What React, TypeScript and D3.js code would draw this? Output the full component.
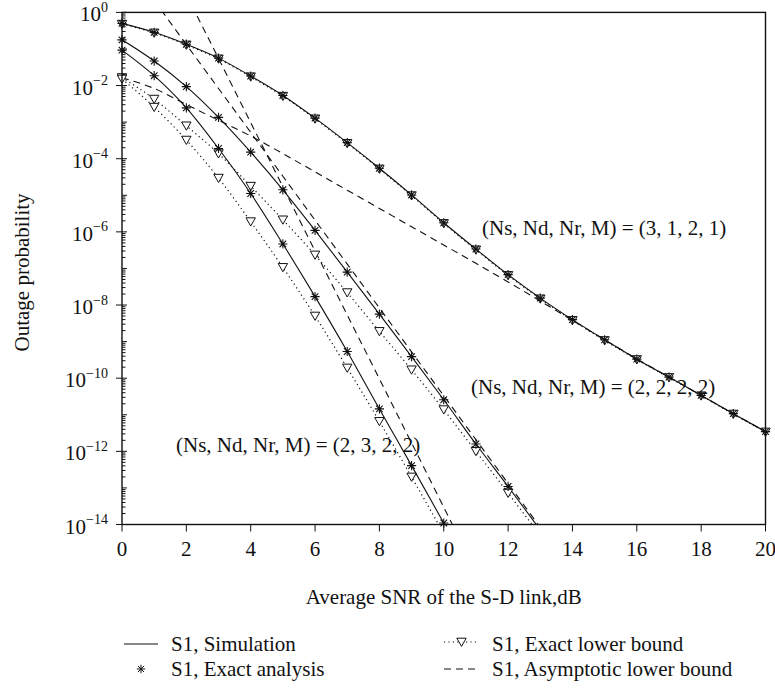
import React from 'react';
import * as d3 from 'd3';

// ---- data (log10 of outage probability) ----
const snrDb = [0, 1, 2, 3, 4, 5, 6, 7, 8, 9, 10, 11, 12, 13, 14, 15, 16, 17, 18, 19, 20];

// (Ns, Nd, Nr, M) = (3, 1, 2, 1)
const simA = [-0.30, -0.545, -0.87, -1.25, -1.74, -2.27, -2.89, -3.56, -4.26, -4.99, -5.75, -6.47, -7.17, -7.81, -8.40, -8.95, -9.48, -9.97, -10.47, -10.97, -11.46];
const lbA = [-0.32, -0.56, -0.89, -1.27, -1.76, -2.29, -2.91, -3.58, -4.28, -5.01, -5.77, -6.49, -7.19, -7.83, -8.42, -8.97, -9.49, -9.98, -10.48, -10.98, -11.47];
const asymA = [-1.79, -2.08, -2.52, -2.95, -3.38, -3.86, -4.36, -4.86, -5.36, -5.86, -6.36, -6.86, -7.37, -7.89, -8.42, -8.95, -9.47, -9.97, -10.47, -10.97, -11.46];

// (Ns, Nd, Nr, M) = (2, 2, 2, 2)
const snrB = [0, 1, 2, 3, 4, 5, 6, 7, 8, 9, 10, 11, 12, 13];
const simB = [-0.75, -1.33, -2.03, -2.87, -3.82, -4.85, -5.96, -7.10, -8.25, -9.41, -10.59, -11.80, -12.96, -14.15];
const lbB = [-1.78, -2.37, -3.10, -3.86, -4.75, -5.67, -6.63, -7.66, -8.72, -9.77, -10.86, -12.00, -13.14, -14.30];
const snrAsymB = [1, 2, 3, 4, 5, 6, 7, 8, 9, 10, 11, 12, 13];
const asymB = [0.33, -0.88, -2.08, -3.28, -4.48, -5.68, -6.88, -8.08, -9.28, -10.48, -11.68, -12.88, -14.08];

// (Ns, Nd, Nr, M) = (2, 3, 2, 2)
const snrC = [0, 1, 2, 3, 4, 5, 6, 7, 8, 9, 10];
const simC = [-1.03, -1.73, -2.61, -3.72, -4.95, -6.33, -7.77, -9.27, -10.84, -12.39, -13.96];
const lbC = [-1.82, -2.59, -3.49, -4.53, -5.72, -6.97, -8.30, -9.72, -11.18, -12.70, -14.25];
const snrAsymC = [2, 3, 4, 5, 6, 7, 8, 9, 10, 11];
const asymC = [0.49, -1.26, -3.01, -4.77, -6.52, -8.27, -10.02, -11.77, -13.53, -15.28];

const xTicks = [0, 2, 4, 6, 8, 10, 12, 14, 16, 18, 20];
const yExps = [0, -2, -4, -6, -8, -10, -12, -14];
const decades = [0, -1, -2, -3, -4, -5, -6, -7, -8, -9, -10, -11, -12, -13, -14];

const labels = [
  { text: '(Ns, Nd, Nr, M) = (3, 1, 2, 1)', x: 482, y: 235 },
  { text: '(Ns, Nd, Nr, M) = (2, 2, 2, 2)', x: 471, y: 394 },
  { text: '(Ns, Nd, Nr, M) = (2, 3, 2, 2)', x: 176, y: 452 },
];

const W = 775;
const H = 688;
const L = 122, R = 765.5, T = 12.4, B = 524.5;
const FONT = '"Liberation Serif", "Times New Roman", serif';
const INK = '#111';
const FS = 21;

function starPath(cx: number, cy: number, r: number) {
  const d = r * 0.72;
  return `M${cx - r},${cy}h${2 * r}M${cx},${cy - r}v${2 * r}M${cx - d},${cy - d}l${2 * d},${2 * d}M${cx - d},${cy + d}l${2 * d},${-2 * d}`;
}
function triPath(cx: number, cy: number) {
  return `M${cx - 4.7},${cy - 3.8}L${cx + 4.7},${cy - 3.8}L${cx},${cy + 4.4}Z`;
}

export default function App() {
  const x = d3.scaleLinear().domain([0, 20]).range([L, R]);
  const y = d3.scaleLog().domain([1, 1e-14]).range([T, B]);
  const py = (e: number) => y(Math.pow(10, e));
  const line = d3
    .line<[number, number]>()
    .x((d) => x(d[0]))
    .y((d) => py(d[1]));
  const smooth = d3
    .line<[number, number]>()
    .x((d) => x(d[0]))
    .y((d) => py(d[1]))
    .curve(d3.curveMonotoneX);
  const pts = (xs: number[], ys: number[]) => xs.map((v, i) => [v, ys[i]] as [number, number]);
  const inside = (e: number) => e <= 0.05 && e >= -14.05;

  const series = [
    { xs: snrDb, sim: simA, lb: lbA, ax: snrDb, asym: asymA },
    { xs: snrB, sim: simB, lb: lbB, ax: snrAsymB, asym: asymB },
    { xs: snrC, sim: simC, lb: lbC, ax: snrAsymC, asym: asymC },
  ];

  const minor: number[] = [];
  decades.slice(1).forEach((k) => {
    for (let m = 2; m <= 9; m++) minor.push(m * Math.pow(10, k));
  });

  return (
    <svg width={W} height={H} style={{ position: 'absolute', left: 0, top: 0, background: '#fff' }} fontFamily={FONT}>
      <defs>
        <clipPath id="plotclip">
          <rect x={L} y={T} width={R - L} height={B - T} />
        </clipPath>
      </defs>
      <rect x={0} y={0} width={W} height={H} fill="#fff" />

      {/* curves */}
      <g clipPath="url(#plotclip)" fill="none" stroke={INK}>
        {series.map((s, i) => (
          <g key={i}>
            <path d={(i === 0 ? smooth : line)(pts(s.ax, s.asym)) || ''} strokeWidth={1.1} strokeDasharray="7,5" />
            <path d={smooth(pts(s.xs, s.lb)) || ''} strokeWidth={1.2} strokeDasharray="1.2,3.2" />
            <path d={smooth(pts(s.xs, s.sim)) || ''} strokeWidth={1.1} />
          </g>
        ))}
      </g>
      {/* markers */}
      <g fill="none" stroke={INK} strokeWidth={1}>
        {series.map((s, i) => (
          <g key={i}>
            {s.xs.map((v, j) =>
              inside(s.lb[j]) ? <path key={'t' + j} d={triPath(x(v), py(s.lb[j]))} fill="#fff" fillOpacity={i === 0 ? 0 : 1} /> : null
            )}
            {s.xs.map((v, j) =>
              inside(s.sim[j]) ? <path key={'s' + j} d={starPath(x(v), py(s.sim[j]), 4.6)} strokeWidth={1.1} /> : null
            )}
          </g>
        ))}
      </g>

      {/* axes box */}
      <rect x={L} y={T} width={R - L} height={B - T} fill="none" stroke={INK} strokeWidth={1.4} />

      {/* y ticks */}
      <g stroke={INK} strokeWidth={1}>
        {decades.map((k) => (
          <line key={'d' + k} x1={k % 2 === 0 ? L - 6 : L} x2={L + 5} y1={py(k)} y2={py(k)} />
        ))}
        {minor.map((v, i) => (
          <line key={'m' + i} x1={L} x2={L + 3.5} y1={y(v)} y2={y(v)} />
        ))}
      </g>
      <g fill={INK} fontSize={FS}>
        {yExps.map((k) => (
          <text key={k} x={108} y={py(k) + 9} textAnchor="end">
            10
            <tspan fontSize={14} dy={-9.5}>
              {k === 0 ? '0' : '\u2212' + Math.abs(k)}
            </tspan>
          </text>
        ))}
      </g>

      {/* x ticks */}
      <g stroke={INK} strokeWidth={1}>
        {xTicks.map((t) => (
          <line key={t} x1={x(t)} x2={x(t)} y1={B} y2={B + 7} />
        ))}
      </g>
      <g fill={INK} fontSize={FS} textAnchor="middle">
        {xTicks.map((t) => (
          <text key={t} x={x(t)} y={556}>
            {t}
          </text>
        ))}
      </g>

      {/* axis titles */}
      <text x={(L + R) / 2} y={604} textAnchor="middle" fontSize={FS} fill={INK}>
        Average SNR of the S-D link,dB
      </text>
      <text transform={`translate(29,${(T + B) / 2 + 4}) rotate(-90)`} textAnchor="middle" fontSize={FS} fill={INK}>
        Outage probability
      </text>

      {/* annotations */}
      {labels.map((l, i) => (
        <text key={i} x={l.x} y={l.y} fontSize={FS} fill={INK}>
          {l.text}
        </text>
      ))}

      {/* legend */}
      <g fontSize={FS} fill={INK}>
        <line x1={124} x2={158} y1={644} y2={644} stroke={INK} strokeWidth={1.1} />
        <text x={171} y={651}>S1, Simulation</text>
        <path d={starPath(141, 669, 4.2)} stroke={INK} fill="none" />
        <text x={171} y={676}>S1, Exact analysis</text>
        <line x1={444} x2={479} y1={642} y2={642} stroke={INK} strokeWidth={1.2} strokeDasharray="1.2,3.2" />
        <path d={triPath(461.5, 642)} stroke={INK} fill="#fff" />
        <text x={492} y={651}>S1, Exact lower bound</text>
        <line x1={444} x2={479} y1={669} y2={669} stroke={INK} strokeWidth={1.1} strokeDasharray="7,5" />
        <text x={492} y={676}>S1, Asymptotic lower bound</text>
      </g>
    </svg>
  );
}
